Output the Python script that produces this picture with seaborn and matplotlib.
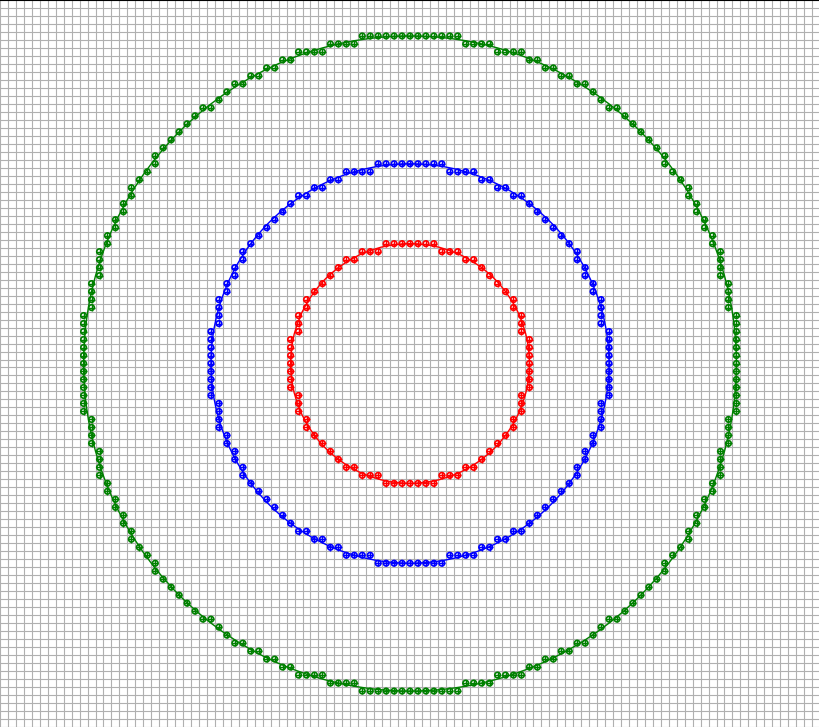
import numpy as np
import pandas as pd
import matplotlib
matplotlib.use('Agg')
import matplotlib.pyplot as plt
from matplotlib.patches import Circle
import seaborn as sns

# circle radii (grid units) and colours
radii = [15, 25, 41]
colors = ['red', 'blue', 'green']

# rasterised points, one octant per circle: y value for x = 0, 1, 2, ...
octant_15 = [15, 15, 15, 15, 14, 14, 14, 13, 13, 12, 11]
octant_25 = [25, 25, 25, 25, 25, 24, 24, 24, 24, 23, 23, 22, 22, 21, 21, 20, 19, 18]
octant_41 = [41, 41, 41, 41, 41, 41, 41, 40, 40, 40, 40, 39, 39, 39, 39, 38, 38,
             37, 37, 36, 36, 35, 35, 34, 33, 32, 32, 31, 30, 29]
octants = [octant_15, octant_25, octant_41]

# mirror each octant round the circle
rows = []
for r, col, octant in zip(radii, colors, octants):
    pts = set()
    for x, y in enumerate(octant):
        for a, b in [(x, y), (y, x)]:
            for sx in (1, -1):
                for sy in (1, -1):
                    pts.add((sx * a, sy * b))
    for a, b in sorted(pts):
        rows.append({'x': a, 'y': b, 'circle': col})
df = pd.DataFrame(rows)
point_colors = [matplotlib.colors.to_rgba(c) for c in df['circle']]

sns.set_style('white')
fig = plt.figure(figsize=(8.2, 7.27), dpi=100)
ax = fig.add_axes([0, 0, 1, 1])

for r, col in zip(radii, colors):
    ax.add_patch(Circle((0, 0), r, fill=False, edgecolor=col, linewidth=1, zorder=2))

# ring + cross markers
sns.scatterplot(data=df, x='x', y='y', marker='o', s=16, linewidth=1.2,
                legend=False, ax=ax, zorder=3)
ax.collections[-1].set_facecolor('none')
ax.collections[-1].set_edgecolor(point_colors)
sns.scatterplot(data=df, x='x', y='y', marker='+', s=22, linewidth=1.0,
                legend=False, ax=ax, zorder=4)
ax.collections[-1].set_edgecolor(point_colors)
ax.collections[-1].set_facecolor(point_colors)

ax.set_xlim(-411 / 8, 409 / 8)
ax.set_ylim(-363 / 8, 364 / 8)
ax.set_xticks(np.arange(-51.5, 52, 1))
ax.set_yticks(np.arange(-45.5, 46, 1))
ax.tick_params(length=0, labelbottom=False, labelleft=False)
ax.grid(True, color='#b0b0b0', linewidth=0.8)
ax.set_axisbelow(True)
ax.set_xlabel('')
ax.set_ylabel('')
for side in ['left', 'right', 'bottom']:
    ax.spines[side].set_visible(False)
ax.spines['top'].set_color('black')
ax.spines['top'].set_linewidth(1.5)

fig.savefig('out.png', dpi=100)
